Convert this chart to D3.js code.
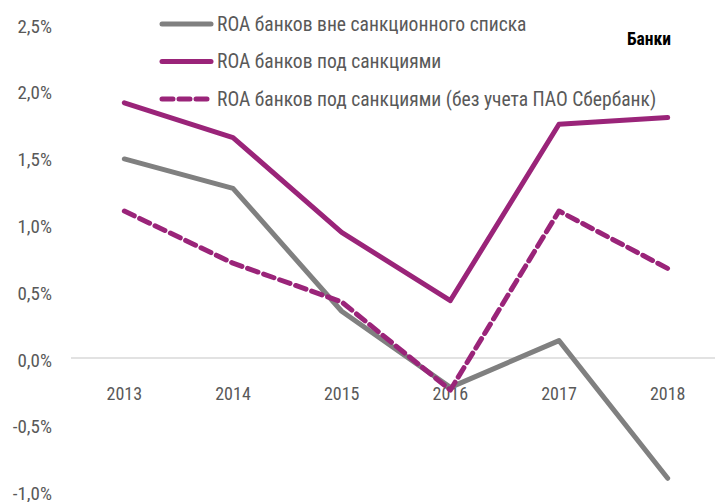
<!DOCTYPE html>
<html>
<head>
<meta charset="utf-8">
<script src="https://cdn.jsdelivr.net/npm/d3@7"></script>
<style>
  body { margin: 0; background: #fff; }
  text { font-family: "Liberation Sans Narrow", "Roboto Condensed", "Liberation Sans", sans-serif; }
</style>
</head>
<body>
<div id="chart"></div>
<script>
// data
const years = ["2013", "2014", "2015", "2016", "2017", "2018"];
const roaOutside = [1.49, 1.27, 0.35, -0.22, 0.13, -0.90];
const roaSanctioned = [1.91, 1.65, 0.94, 0.43, 1.75, 1.80];
const roaSanctionedExSber = [1.10, 0.71, 0.42, -0.24, 1.10, 0.67];
const yTicks = [-1, -0.5, 0, 0.5, 1, 1.5, 2, 2.5];
const seriesNames = [
    "ROA банков вне санкционного списка",
    "ROA банков под санкциями",
    "ROA банков под санкциями (без учета ПАО Сбербанк)"
];
const title = "Банки";

const series = [
    {name: seriesNames[0], values: roaOutside, color: "#808080", dash: null},
    {name: seriesNames[1], values: roaSanctioned, color: "#9a2479", dash: null},
    {name: seriesNames[2], values: roaSanctionedExSber, color: "#9a2479", dash: "11,6"}
];

const width = 715;
const height = 502;

const locale = d3.formatLocale({decimal: ",", thousands: " ", grouping: [3], currency: ["", ""], minus: "-"});
const fmt = locale.format(".1f");

const x = d3.scaleBand()
            .domain(years)
            .range([70, 722])

const y = d3.scaleLinear()
            .domain([-1, 2.5])
            .range([491.6, 24])

const svg = d3.select("#chart")
                .append("svg")
                .attr("width", width)
                .attr("height", height)

// zero line
svg.append("line")
    .attr("x1", 71)
    .attr("x2", 715)
    .attr("y1", y(0))
    .attr("y2", y(0))
    .attr("stroke", "#d9d9d9")
    .attr("stroke-width", 1.5)

// y-axis labels
svg.append("g")
    .selectAll("text")
    .data(yTicks)
    .join("text")
        .attr("x", 52)
        .attr("y", d => y(d) + 2)
        .attr("text-anchor", "end")
        .attr("dominant-baseline", "central")
        .attr("font-size", 19)
        .attr("fill", "#595959")
        .text(d => fmt(d) + "%")

// x-axis labels
svg.append("g")
    .selectAll("text")
    .data(years)
    .join("text")
        .attr("x", d => x(d) + x.bandwidth() / 2)
        .attr("y", 393)
        .attr("text-anchor", "middle")
        .attr("dominant-baseline", "central")
        .attr("font-size", 18)
        .attr("fill", "#595959")
        .text(d => d)

const line = d3.line()
                .x((d, i) => x(years[i]) + x.bandwidth() / 2)
                .y(d => y(d))

svg.append("g")
    .selectAll("path")
    .data(series)
    .join("path")
        .attr("d", d => line(d.values))
        .attr("fill", "none")
        .attr("stroke", d => d.color)
        .attr("stroke-width", 5)
        .attr("stroke-linejoin", "round")
        .attr("stroke-linecap", "round")
        .attr("stroke-dasharray", d => d.dash)

// legend
const legend = svg.append("g")
                .selectAll("g")
                .data(series)
                .join("g")
                .attr("transform", (d, i) => `translate(0, ${24 + i * 37.5})`)

legend.append("line")
    .attr("x1", 162)
    .attr("x2", 211)
    .attr("stroke", d => d.color)
    .attr("stroke-width", 5)
    .attr("stroke-linecap", "round")
    .attr("stroke-dasharray", d => d.dash)

legend.append("text")
    .attr("x", 217)
    .attr("dominant-baseline", "central")
    .attr("font-size", 19.6)
    .attr("fill", "#595959")
    .text(d => d.name)

svg.append("text")
    .attr("x", 627)
    .attr("y", 39)
    .attr("dominant-baseline", "central")
    .attr("font-size", 17.5)
    .attr("font-weight", "bold")
    .attr("fill", "#000")
    .text(title)
</script>
</body>
</html>
